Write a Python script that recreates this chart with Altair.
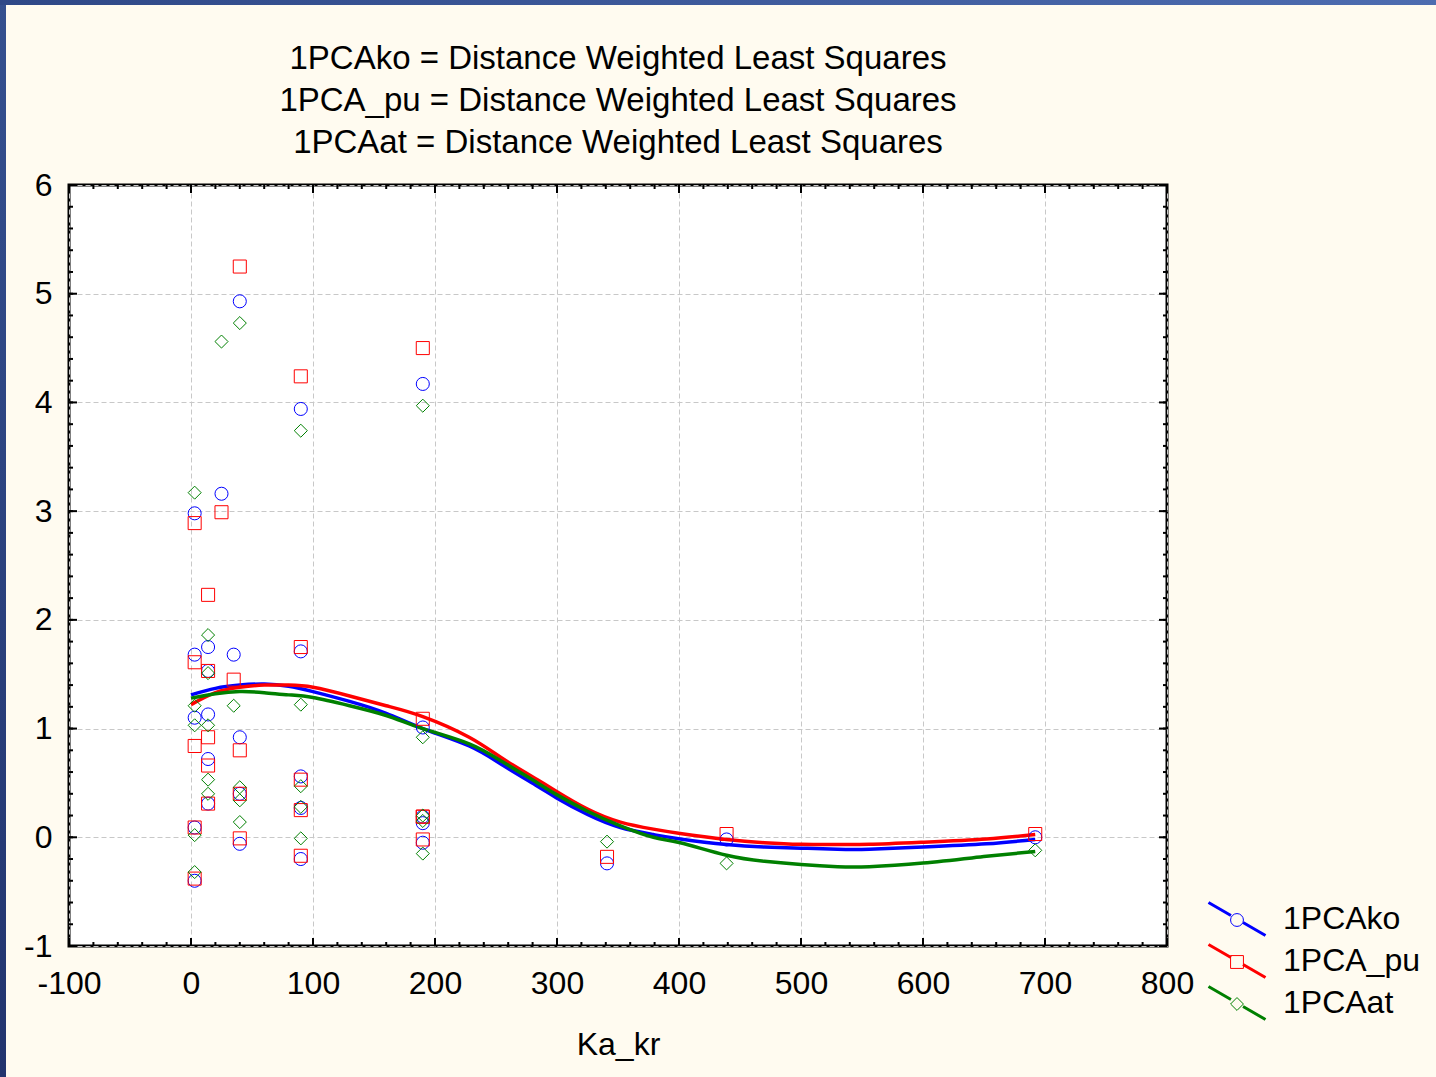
import altair as alt
import pandas as pd

FONT = "Liberation Sans"
SERIES = ["1PCAko", "1PCA_pu", "1PCAat"]
MARKER_KEYS = ["ko", "pu", "at"]
COLORS = ["#0000FF", "#FF0000", "#008000"]
SHAPES = ["circle", "square", "diamond"]
TITLE_LINES = [
    "1PCAko = Distance Weighted Least Squares",
    "1PCA_pu = Distance Weighted Least Squares",
    "1PCAat = Distance Weighted Least Squares",
]

# observations
ka_kr = [3, 3, 3, 3, 3, 14, 14, 14, 14, 14, 25, 35, 40, 40, 40, 40,
         90, 90, 90, 90, 90, 190, 190, 190, 190, 190, 341, 439, 692]
pca_ko = [2.98, 1.68, 1.10, 0.09, -0.40, 1.75, 1.53, 1.13, 0.72, 0.31, 3.16, 1.68,
          4.93, 0.92, 0.40, -0.06, 3.94, 1.71, 0.56, 0.27, -0.20,
          4.17, 1.01, 0.13, 0.19, -0.05, -0.24, -0.02, 0.00]
pca_pu = [2.89, 1.61, 0.84, 0.09, -0.38, 2.23, 1.53, 0.92, 0.66, 0.31, 2.99, 1.45,
          5.25, 0.80, 0.40, -0.01, 4.24, 1.75, 0.53, 0.25, -0.17,
          4.50, 1.09, 0.19, 0.19, -0.02, -0.18, 0.03, 0.03]
pca_at = [3.17, 1.21, 1.03, 0.02, -0.32, 1.86, 1.51, 1.03, 0.53, 0.40, 4.56, 1.21,
          4.73, 0.46, 0.34, 0.14, 3.74, 1.22, 0.47, 0.28, -0.01,
          3.97, 0.92, 0.20, 0.15, -0.15, -0.04, -0.24, -0.12]

# distance weighted least squares curves
curve_x = [0, 20, 40, 60, 80, 100, 130, 160, 190, 228, 256, 284, 300, 325, 352,
           379, 401, 439, 470, 500, 530, 556, 600, 652, 692]
fit_ko = [1.31, 1.37, 1.40, 1.41, 1.39, 1.34, 1.25, 1.14, 1.00, 0.84, 0.66, 0.47, 0.36,
          0.21, 0.09, 0.025, -0.015, -0.067, -0.09, -0.10, -0.11, -0.11, -0.09, -0.06, -0.02]
fit_pu = [1.22, 1.33, 1.38, 1.40, 1.40, 1.38, 1.30, 1.21, 1.11, 0.92, 0.72, 0.53, 0.42,
          0.26, 0.14, 0.075, 0.035, -0.02, -0.05, -0.065, -0.067, -0.065, -0.045, -0.015, 0.025]
fit_at = [1.28, 1.32, 1.34, 1.33, 1.31, 1.285, 1.21, 1.12, 1.00, 0.86, 0.69, 0.50, 0.39,
          0.24, 0.105, 0.0, -0.05, -0.165, -0.22, -0.25, -0.27, -0.27, -0.236, -0.175, -0.13]

x_major = list(range(-100, 801, 100))
x_minor = list(range(-100, 801, 20))
y_major = list(range(-1, 7))
y_minor = [round(-1 + 0.2 * i, 1) for i in range(36)]

W, H = 1098, 761
PAD_L, PAD_T = 69, 185
BG = "#FFFBF0"

n = len(ka_kr)
pts = pd.DataFrame({
    "Ka_kr": ka_kr * 3,
    "value": pca_ko + pca_pu + pca_at,
    "marker": [MARKER_KEYS[0]] * n + [MARKER_KEYS[1]] * n + [MARKER_KEYS[2]] * n,
})
m = len(curve_x)
fits = pd.DataFrame({
    "Ka_kr": curve_x * 3,
    "value": fit_ko + fit_pu + fit_at,
    "series": [SERIES[0]] * m + [SERIES[1]] * m + [SERIES[2]] * m,
})

xs = alt.Scale(domain=[-100, 800], nice=False, zero=False)
ys = alt.Scale(domain=[-1, 6], nice=False, zero=False)

hyphen = "datum.value < 0 ? '-' + abs(datum.value) : '' + datum.value"
axis_x = alt.Axis(values=x_major, grid=True, ticks=False, domain=False, title="Ka_kr",
                  labelFlush=False, labelOverlap=False, labelPadding=22, titlePadding=30,
                  labelExpr=hyphen)
axis_y = alt.Axis(values=y_major, grid=True, ticks=False, domain=False, title=None,
                  labelFlush=False, labelOverlap=False, labelPadding=17, labelExpr=hyphen)


def X():
    return alt.X("Ka_kr:Q", scale=xs, axis=axis_x)


def Y():
    return alt.Y("value:Q", scale=ys, axis=axis_y)


# legend geometry (pixels relative to the plot origin)
ROW0 = 734          # centre of first legend row
SYM_CX = 1168       # centre of legend symbols
LEG_SIZE = 1225     # symbol size of the line legend (sqrt = 35)
line_path = "M-1.629,-0.943L-0.346,-0.2M0.346,0.2L1.629,0.943"

lines = alt.Chart(fits).mark_line(strokeWidth=3.5, interpolate="natural").encode(
    x=X(), y=Y(),
    color=alt.Color("series:N", scale=alt.Scale(domain=SERIES, range=COLORS),
                    legend=alt.Legend(
                        title=None, orient="none", legendX=SYM_CX - 19, legendY=ROW0 - 19,
                        symbolType=line_path, symbolSize=LEG_SIZE, symbolStrokeWidth=3,
                        labelFontSize=32, labelFont=FONT, labelColor="black",
                        labelOffset=27, rowPadding=-4, padding=0)),
    detail="series:N",
)

marker_legend = alt.Legend(
    title=None, orient="none", legendX=SYM_CX - 16, legendY=ROW0 - 15,
    symbolSize=165, symbolStrokeWidth=1, symbolFillColor=BG, symbolOpacity=1,
    labelFontSize=32, labelFont=FONT, labelOpacity=0, labelExpr="''",
    labelOffset=16, rowPadding=10, padding=0)

points = alt.Chart(pts).mark_point(filled=False, size=170, strokeWidth=1, opacity=1).encode(
    x=X(), y=Y(),
    stroke=alt.Stroke("marker:N", scale=alt.Scale(domain=MARKER_KEYS, range=COLORS),
                      legend=marker_legend),
    shape=alt.Shape("marker:N", scale=alt.Scale(domain=MARKER_KEYS, range=SHAPES),
                    legend=marker_legend),
)


def xticks(vals, length):
    d = pd.DataFrame({"Ka_kr": vals})
    bottom = alt.Chart(d).mark_rule(color="black", strokeWidth=2).encode(
        x=X(), y=alt.value(H), y2=alt.value(H - length))
    top = alt.Chart(d).mark_rule(color="black", strokeWidth=2).encode(
        x=X(), y=alt.value(0), y2=alt.value(length))
    return [bottom, top]


def yticks(vals, length):
    d = pd.DataFrame({"value": vals})
    left = alt.Chart(d).mark_rule(color="black", strokeWidth=2).encode(
        y=Y(), x=alt.value(0), x2=alt.value(length))
    right = alt.Chart(d).mark_rule(color="black", strokeWidth=2).encode(
        y=Y(), x=alt.value(W), x2=alt.value(W - length))
    return [left, right]


one = alt.Data(values=[{"k": 0}])
left_strip = alt.Chart(one).mark_rect(color=alt.Gradient(
    gradient="linear", x1=0, x2=0, y1=0, y2=1,
    stops=[alt.GradientStop(color="#35508f", offset=0),
           alt.GradientStop(color="#22346e", offset=1)])).encode(
    x=alt.value(-PAD_L), x2=alt.value(-PAD_L + 6),
    y=alt.value(-PAD_T), y2=alt.value(1077 - PAD_T))
top_strip = alt.Chart(one).mark_rect(color=alt.Gradient(
    gradient="linear", x1=0, x2=1, y1=0, y2=0,
    stops=[alt.GradientStop(color="#2f4887", offset=0),
           alt.GradientStop(color="#4d6cb0", offset=1)])).encode(
    x=alt.value(-PAD_L), x2=alt.value(1436 - PAD_L),
    y=alt.value(-PAD_T), y2=alt.value(-PAD_T + 5))

layers = [left_strip, top_strip, lines, points]
layers += xticks(x_minor, 4) + xticks(x_major, 8) + yticks(y_minor, 4) + yticks(y_major, 8)

chart = alt.layer(*layers).properties(
    width=W, height=H,
    padding={"left": PAD_L, "top": PAD_T, "right": 1436 - PAD_L - W, "bottom": 1077 - PAD_T - H},
    autosize=alt.AutoSizeParams(type="none"),
    title=alt.TitleParams(text=TITLE_LINES, fontSize=33, font=FONT, fontWeight="normal",
                          lineHeight=42, anchor="middle", offset=-160, color="black"),
).configure(background=BG).configure_view(
    fill="white", stroke="black", strokeWidth=3
).configure_axis(
    labelFont=FONT, labelFontSize=32, labelColor="black",
    titleFont=FONT, titleFontSize=32, titleFontWeight="normal", titleColor="black",
    gridColor="#c8c8c8", gridDash=[5, 3], gridWidth=1,
)

chart.save("out.html", embed_options={"renderer": "svg", "actions": False})
